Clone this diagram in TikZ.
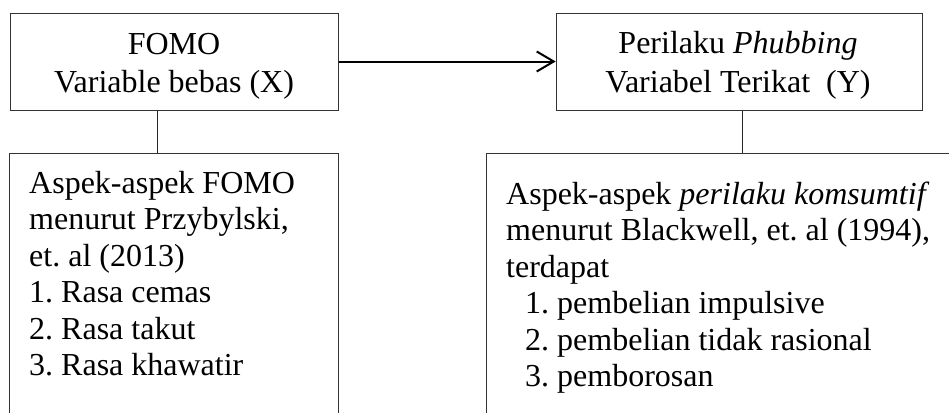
\documentclass[tikz,border=0pt]{standalone}
\usepackage{fontspec}
\setmainfont{Liberation Serif}
\usetikzlibrary{arrows.meta}
\begin{document}
\frenchspacing
\begin{tikzpicture}[x=1pt,y=-1pt,
  boxline/.style={draw=black!80, line width=1pt},
  txt/.style={anchor=base west, inner sep=0pt, font=\fontsize{32}{36.5}\selectfont},
  ctxt/.style={anchor=base, inner sep=0pt, font=\fontsize{32}{36.5}\selectfont},
  conn/.style={line width=1pt, draw=black!85},
  arr/.style={line width=2pt, -{Straight Barb[length=17pt,width=20pt,line width=2pt]}}]
\useasboundingbox (0,0) rectangle (949,412);
% top boxes
\node[boxline, minimum width=328.5pt, minimum height=97pt, anchor=north west, inner sep=0pt] (fomo) at (9.5,13) {};
\node[boxline, minimum width=366.5pt, minimum height=97pt, anchor=north west, inner sep=0pt] (phub) at (555.7,13) {};
\node[ctxt] (t1) at (174,55) {FOMO};
\node[ctxt] (t2) at (174,92) {Variable bebas (X)};
\node[ctxt] (t3) at (738,53) {Perilaku \textit{Phubbing}};
\node[ctxt] (t4) at (738,92) {Variabel Terikat\ \ (Y)};
% bottom boxes (open at bottom)
\coordinate (la) at (9.5,413);
\coordinate (lb) at (9.5,153);
\coordinate (lc) at (338,153);
\coordinate (ld) at (338,413);
\draw[boxline] (la) -- (lb) -- (lc) -- (ld);
\coordinate (ra) at (486,413);
\coordinate (rb) at (486,153);
\coordinate (rc) at (952,153);
\draw[boxline] (ra) -- (rb) -- (rc);
% connectors
\coordinate (lm) at (157,153);
\coordinate (rm) at (742,153);
\draw[conn] (fomo.south -| lm) -- (lm);
\draw[conn] (phub.south -| rm) -- (rm);
\draw[arr] (fomo.east |- 0,61.5) -- (phub.west |- 0,61.5);
% left text
\node[txt] (l1) at (29,193) {Aspek-aspek FOMO};
\node[txt] (l2) at (29,229.5) {menurut Przybylski,};
\node[txt] (l3) at (29,266) {et. al (2013)};
\node[txt] (l4) at (29,302.5) {1. Rasa cemas};
\node[txt] (l5) at (29,339) {2. Rasa takut};
\node[txt] (l6) at (29,375.5) {3. Rasa khawatir};
% right text
\node[txt] (r1) at (506,204) {Aspek-aspek \textit{perilaku komsumtif}};
\node[txt] (r2) at (506,240.5) {menurut Blackwell, et. al (1994),};
\node[txt] (r3) at (506,277) {terdapat};
\node[txt] (r4) at (525,313.5) {1. pembelian impulsive};
\node[txt] (r5) at (525,350) {2. pembelian tidak rasional};
\node[txt] (r6) at (525,386.5) {3. pemborosan};
\end{tikzpicture}
\end{document}
